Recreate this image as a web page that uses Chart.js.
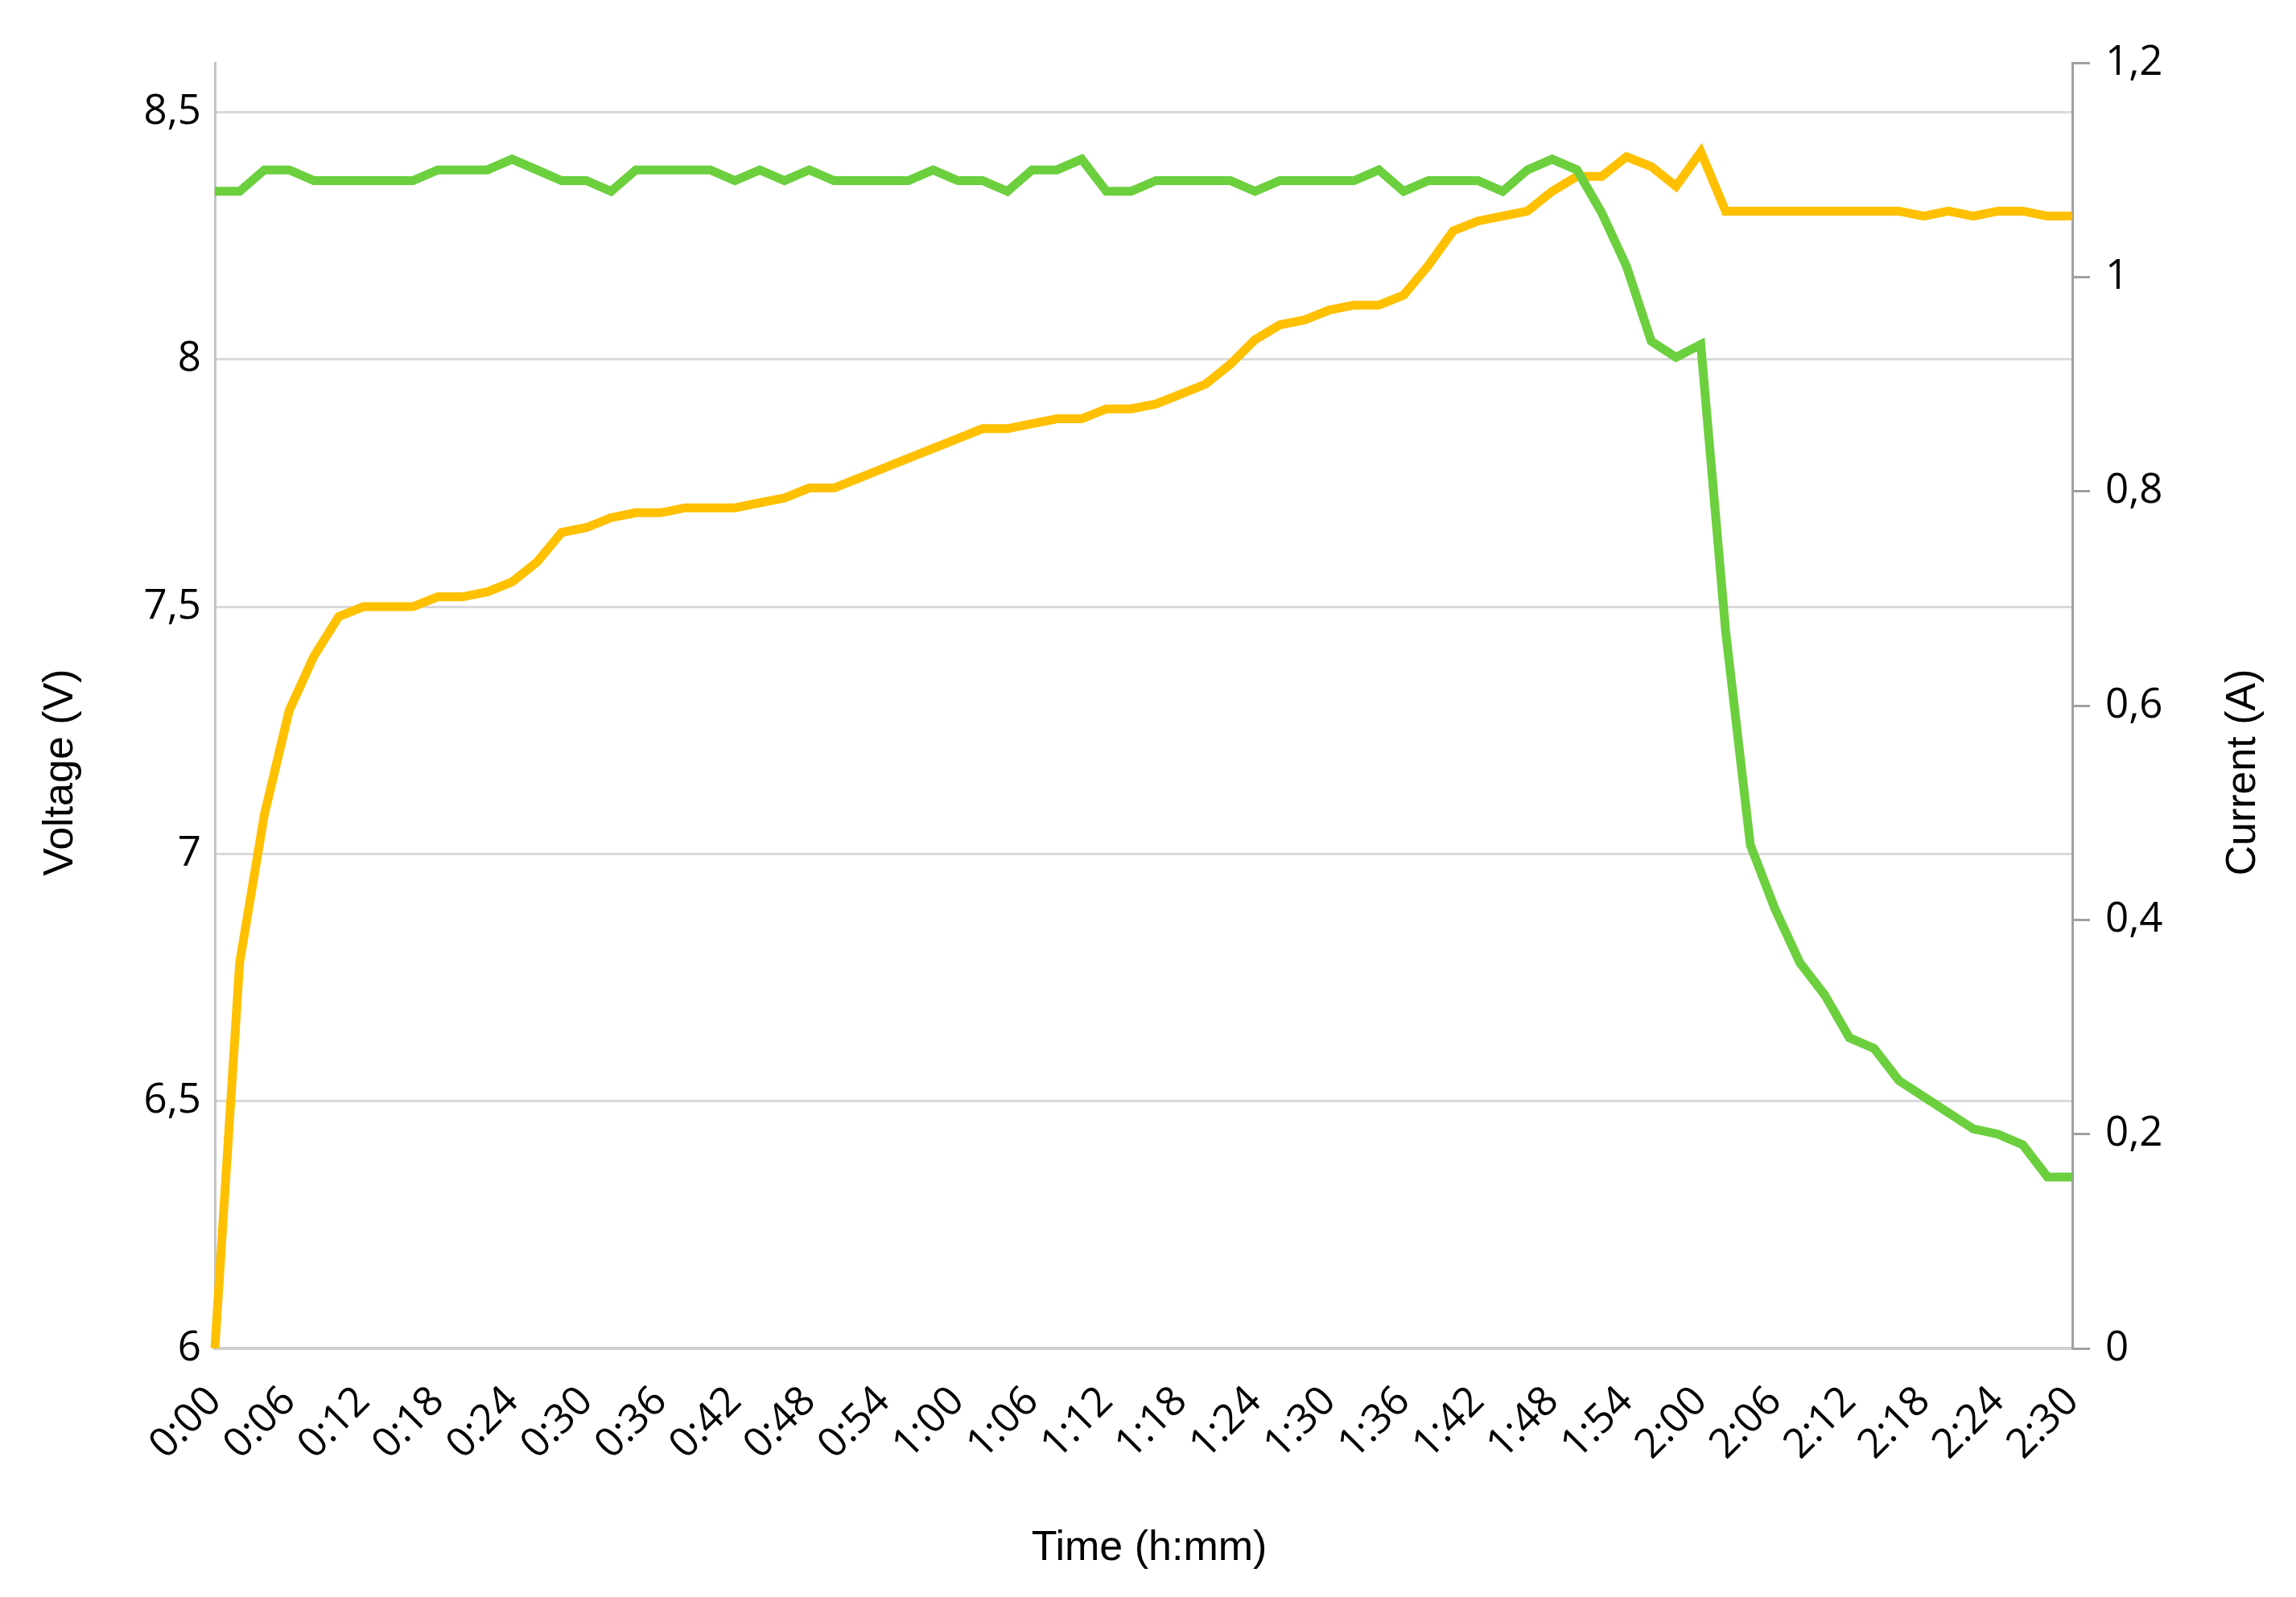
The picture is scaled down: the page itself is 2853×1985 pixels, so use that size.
<!DOCTYPE html>
<html>
<head>
<meta charset="utf-8">
<script src="https://cdn.jsdelivr.net/npm/chart.js@4.4.1/dist/chart.umd.min.js"></script>
<style>
  html, body { margin: 0; padding: 0; background: #fff; }
  #wrap { width: 2853px; height: 1985px; position: relative; }
</style>
</head>
<body>
<div id="wrap"><canvas id="chart"></canvas></div>
<script>
// time axis, one reading every 2 minutes
const timeLabels = [
  '0:00','0:02','0:04','0:06','0:08','0:10','0:12','0:14','0:16','0:18',
  '0:20','0:22','0:24','0:26','0:28','0:30','0:32','0:34','0:36','0:38',
  '0:40','0:42','0:44','0:46','0:48','0:50','0:52','0:54','0:56','0:58',
  '1:00','1:02','1:04','1:06','1:08','1:10','1:12','1:14','1:16','1:18',
  '1:20','1:22','1:24','1:26','1:28','1:30','1:32','1:34','1:36','1:38',
  '1:40','1:42','1:44','1:46','1:48','1:50','1:52','1:54','1:56','1:58',
  '2:00','2:02','2:04','2:06','2:08','2:10','2:12','2:14','2:16','2:18',
  '2:20','2:22','2:24','2:26','2:28','2:30'
];

// battery voltage (V), left axis
const voltage = [
  6.00, 6.78, 7.08, 7.29, 7.40, 7.48, 7.50, 7.50, 7.50, 7.52,
  7.52, 7.53, 7.55, 7.59, 7.65, 7.66, 7.68, 7.69, 7.69, 7.70,
  7.70, 7.70, 7.71, 7.72, 7.74, 7.74, 7.76, 7.78, 7.80, 7.82,
  7.84, 7.86, 7.86, 7.87, 7.88, 7.88, 7.90, 7.90, 7.91, 7.93,
  7.95, 7.99, 8.04, 8.07, 8.08, 8.10, 8.11, 8.11, 8.13, 8.19,
  8.26, 8.28, 8.29, 8.30, 8.34, 8.37, 8.37, 8.41, 8.39, 8.35,
  8.42, 8.30, 8.30, 8.30, 8.30, 8.30, 8.30, 8.30, 8.30, 8.29,
  8.30, 8.29, 8.30, 8.30, 8.29, 8.29
];

// charge current (A), right axis
const current = [
  1.08, 1.08, 1.10, 1.10, 1.09, 1.09, 1.09, 1.09, 1.09, 1.10,
  1.10, 1.10, 1.11, 1.10, 1.09, 1.09, 1.08, 1.10, 1.10, 1.10,
  1.10, 1.09, 1.10, 1.09, 1.10, 1.09, 1.09, 1.09, 1.09, 1.10,
  1.09, 1.09, 1.08, 1.10, 1.10, 1.11, 1.08, 1.08, 1.09, 1.09,
  1.09, 1.09, 1.08, 1.09, 1.09, 1.09, 1.09, 1.10, 1.08, 1.09,
  1.09, 1.09, 1.08, 1.10, 1.11, 1.10, 1.06, 1.01, 0.94, 0.925,
  0.937, 0.67, 0.47, 0.41, 0.36, 0.33, 0.29, 0.28, 0.25, 0.235,
  0.22, 0.205, 0.20, 0.19, 0.16, 0.16
];

const voltageTicks = [6, 6.5, 7, 7.5, 8, 8.5];
const currentTicks = [0, 0.2, 0.4, 0.6, 0.8, 1, 1.2];

const tickFont = { family: "'Open Sans', sans-serif", size: 51 };
const titleFont = '52px "Liberation Sans", Arial, sans-serif';

// decimal comma like the original sheet
function comma(v) {
  return String(v).replace('.', ',');
}

// axis titles drawn by hand so both vertical ones read bottom-to-top
const axisTitles = {
  id: 'axisTitles',
  afterDraw(chart) {
    const ctx = chart.ctx;
    ctx.save();
    ctx.font = titleFont;
    ctx.fillStyle = '#000';
    ctx.textAlign = 'center';
    ctx.textBaseline = 'middle';

    ctx.fillText('Time (h:mm)', 1428, 1925);

    ctx.translate(76, 960);
    ctx.rotate(-Math.PI / 2);
    ctx.fillText('Voltage (V)', 0, 0);
    ctx.restore();

    ctx.save();
    ctx.font = titleFont;
    ctx.fillStyle = '#000';
    ctx.textAlign = 'center';
    ctx.textBaseline = 'middle';
    ctx.translate(2788, 960);
    ctx.rotate(-Math.PI / 2);
    ctx.fillText('Current (A)', 0, 0);
    ctx.restore();
  }
};

new Chart(document.getElementById('chart'), {
  type: 'line',
  data: {
    labels: timeLabels,
    datasets: [
      {
        label: 'Voltage',
        data: voltage,
        yAxisID: 'y',
        borderColor: '#FFC000',
        borderWidth: 11,
        pointRadius: 0,
        tension: 0,
        order: 1
      },
      {
        label: 'Current',
        data: current,
        yAxisID: 'y1',
        borderColor: '#6CCF3E',
        borderWidth: 11,
        pointRadius: 0,
        tension: 0,
        order: 0
      }
    ]
  },
  options: {
    responsive: true,
    maintainAspectRatio: false,
    animation: false,
    devicePixelRatio: 1,
    layout: { padding: { top: 78, left: 0, right: 0, bottom: 0 } },
    plugins: {
      legend: { display: false },
      tooltip: { enabled: false }
    },
    scales: {
      x: {
        type: 'category',
        offset: false,
        grid: { display: false },
        border: { display: true, color: '#d0d0d0', width: 4 },
        ticks: {
          autoSkip: false,
          minRotation: 45,
          maxRotation: 45,
          padding: 28,
          color: '#000',
          font: tickFont,
          callback: function(value, index) {
            return index % 3 === 0 ? this.getLabelForValue(value) : '';
          }
        },
        afterFit: s => { s.height = 309; }
      },
      y: {
        position: 'left',
        min: 6,
        max: 8.6,
        afterBuildTicks: s => { s.ticks = voltageTicks.map(v => ({ value: v })); },
        grid: { color: '#d9d9d9', lineWidth: 3, drawTicks: false },
        border: { display: true, color: '#c4c4c4', width: 3 },
        ticks: {
          padding: 17,
          color: '#000',
          font: tickFont,
          callback: v => comma(v)
        },
        afterFit: s => { s.width = 267; }
      },
      y1: {
        position: 'right',
        min: 0,
        max: 1.2,
        afterBuildTicks: s => { s.ticks = currentTicks.map(v => ({ value: v })); },
        grid: {
          drawOnChartArea: false,
          drawTicks: true,
          tickLength: 22,
          color: '#a0a0a0',
          lineWidth: 3
        },
        border: { display: true, color: '#a0a0a0', width: 3 },
        ticks: {
          padding: 19,
          color: '#000',
          font: tickFont,
          callback: v => comma(v)
        },
        afterFit: s => { s.width = 278; }
      }
    }
  },
  plugins: [axisTitles]
});
</script>
</body>
</html>
